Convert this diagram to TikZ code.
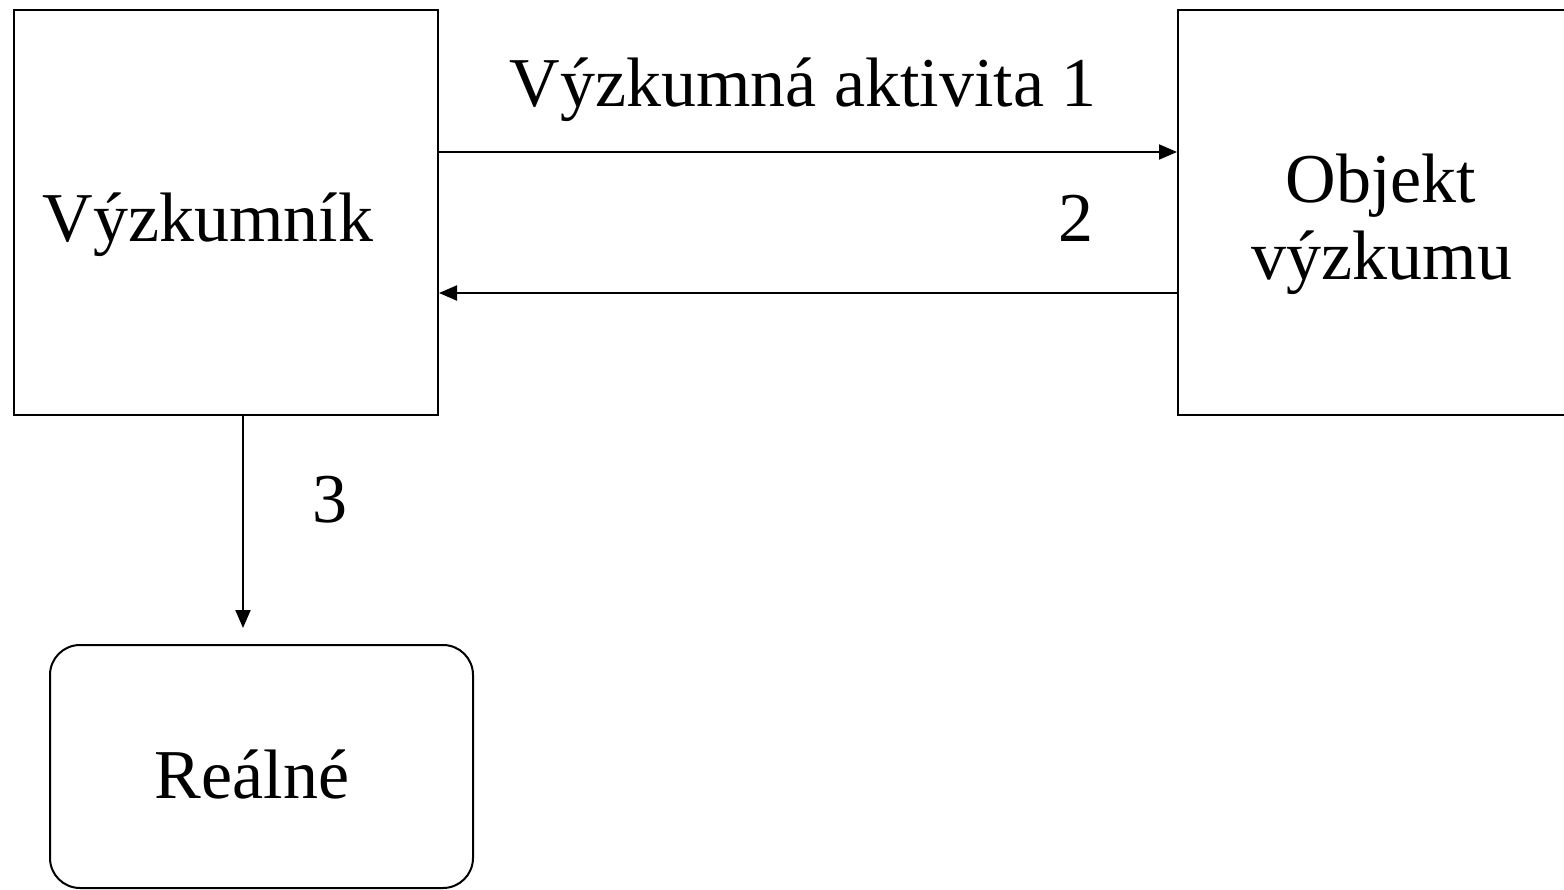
\documentclass[tikz,border=0pt]{standalone}
\usepackage{fontspec}
\setmainfont{Liberation Serif}
\usetikzlibrary{arrows.meta}
\begin{document}
\begin{tikzpicture}[x=1pt,y=-1pt,
  box/.style={draw, line width=2pt, inner sep=0pt},
  lbl/.style={font=\fontsize{70}{80}\selectfont, inner sep=0pt, anchor=base},
  arr/.style={line width=2pt, -{Triangle[length=18pt,width=15pt]}}]
\useasboundingbox (0,0) rectangle (1564,890);
\node[box, minimum width=424pt, minimum height=405pt] (vyz) at (226,212.5) {};
\node[box, minimum width=406pt, minimum height=405pt] (obj) at (1381,212.5) {};
\node[box, rounded corners=30pt, minimum width=423pt, minimum height=243pt] (real) at (261.5,766.5) {};
\node[lbl] (tvyz) at (208,242) {Výzkumník};
\node[lbl] (tobj1) at (1381,203) {Objekt};
\node[lbl] (tobj2) at (1382,280) {výzkumu};
\node[lbl] (treal) at (252,798) {Reálné};
\node[lbl] (t1) at (803,107) {Výzkumná aktivita 1};
\node[lbl] (t2) at (1076,242) {2};
\node[lbl] (t3) at (330,522) {3};
\coordinate (y1) at (0,152);
\coordinate (y2) at (0,293);
\coordinate (x3) at (243,0);
\coordinate (e3) at (243,628);
\draw[arr] (vyz.east |- y1) -- (obj.west |- y1);
\draw[arr] (obj.west |- y2) -- (vyz.east |- y2);
\draw[arr] (vyz.south -| x3) -- (e3);
\end{tikzpicture}
\end{document}
